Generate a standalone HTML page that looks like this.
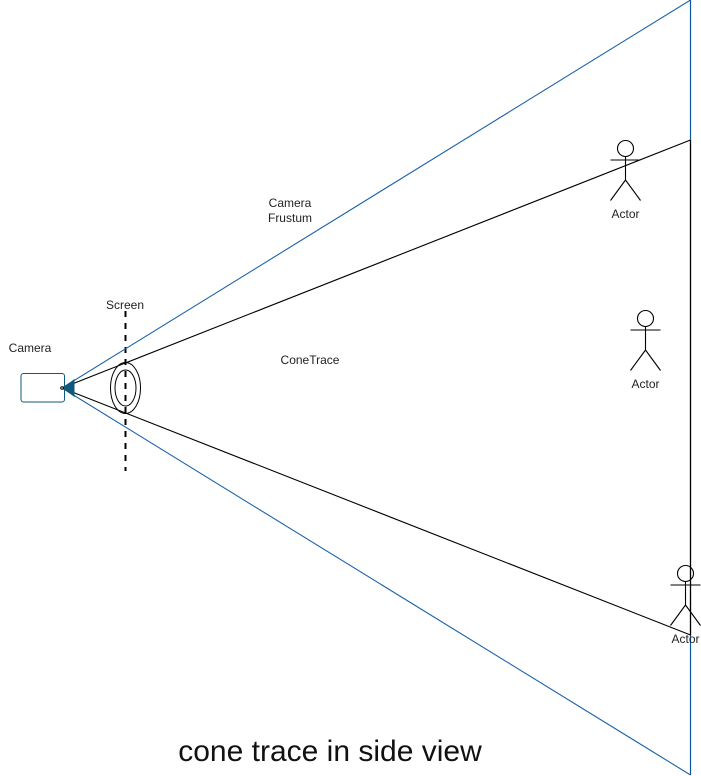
<!DOCTYPE html>
<html>
<head>
<meta charset="utf-8">
<style>
html,body{margin:0;padding:0;background:#fff;width:701px;height:776px;overflow:hidden}
svg{display:block}
text{font-family:"Liberation Sans",Arial,sans-serif;fill:#222;text-anchor:middle}
</style>
</head>
<body>
<svg width="701" height="776" viewBox="0 0 701 776" xmlns="http://www.w3.org/2000/svg">
<rect x="21" y="373.5" width="43.5" height="28.5" rx="2.5" fill="#fff" stroke="#10597c" stroke-width="1"/>
<line x1="125.5" y1="311" x2="125.5" y2="471" stroke="#000" stroke-width="2" stroke-dasharray="6 6"/>
<ellipse cx="125.5" cy="388" rx="15" ry="25.5" fill="none" stroke="#000" stroke-width="1"/>
<ellipse cx="125.5" cy="388" rx="10.5" ry="18" fill="none" stroke="#000" stroke-width="1"/>
<line x1="62" y1="388" x2="690.5" y2="0" stroke="#1c62a8" stroke-width="1.1"/>
<line x1="62" y1="388" x2="690.5" y2="775" stroke="#1c62a8" stroke-width="1.1"/>
<line x1="690.5" y1="0" x2="690.5" y2="775" stroke="#0b58a8" stroke-width="1.2"/>
<line x1="690.5" y1="140" x2="690.5" y2="635" stroke="#000" stroke-width="1.2"/>
<line x1="62" y1="388" x2="690.5" y2="140" stroke="#000" stroke-width="1.1"/>
<line x1="62" y1="388" x2="690.5" y2="635" stroke="#000" stroke-width="1.1"/>
<polygon points="63,388 74,380 74,396" fill="#10597c" stroke="#10597c" stroke-width="1"/>
<circle cx="62" cy="388" r="1.3" fill="#fff" stroke="#000" stroke-width="1"/>
<g fill="none" stroke="#000" stroke-width="1.1">
<circle cx="625.5" cy="148.5" r="8"/>
<path d="M625.5 156.5V180M610.5 160H640.5M625.5 180L610.5 200.5M625.5 180L640.5 200.5"/>
<circle cx="645.5" cy="318.5" r="8"/>
<path d="M645.5 326.5V350M630.5 330H660.5M645.5 350L630.5 370.5M645.5 350L660.5 370.5"/>
<circle cx="685.5" cy="573.5" r="8"/>
<path d="M685.5 581.5V605M670.5 585H700.5M685.5 605L670.5 625.5M685.5 605L700.5 625.5"/>
</g>
<text x="30" y="352" font-size="12">Camera</text>
<text x="125" y="309" font-size="12">Screen</text>
<text x="290" y="207" font-size="12">Camera</text>
<text x="290" y="222" font-size="12">Frustum</text>
<text x="310" y="364" font-size="12">ConeTrace</text>
<text x="625.5" y="218" font-size="12">Actor</text>
<text x="645.5" y="388" font-size="12">Actor</text>
<text x="685.5" y="643" font-size="12">Actor</text>
<text x="330" y="761" font-size="30" style="fill:#111">cone trace in side view</text>
</svg>
</body>
</html>
